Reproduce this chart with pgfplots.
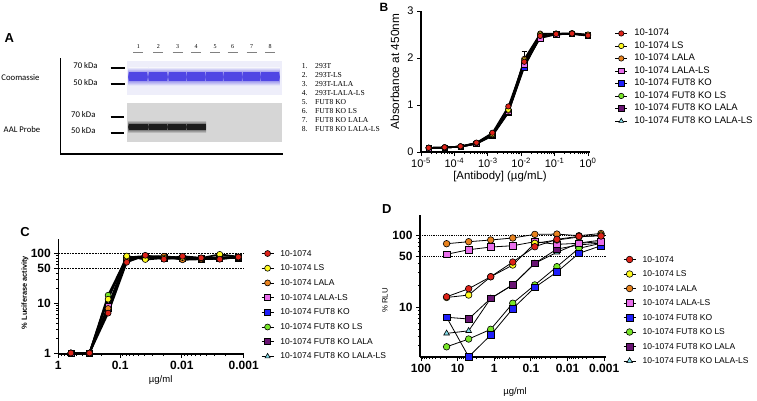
\documentclass[border=0pt]{standalone}
\usepackage{pgfplots}
\pgfplotsset{compat=1.18}
\usepackage{fontspec}
\setmainfont{Liberation Sans}
\newfontfamily\calfont{Carlito}
\newfontfamily\camfont{Liberation Serif}
\definecolor{cRed}{RGB}{222,35,25}
\definecolor{cYel}{RGB}{255,250,30}
\definecolor{cOra}{RGB}{232,130,30}
\definecolor{cMag}{RGB}{232,110,235}
\definecolor{cBlu}{RGB}{30,30,250}
\definecolor{cGre}{RGB}{120,230,40}
\definecolor{cPur}{RGB}{105,20,115}
\definecolor{cCya}{RGB}{130,220,232}
\definecolor{gelA}{RGB}{238,238,250}
\definecolor{bandA}{RGB}{80,70,228}
\definecolor{gelB}{RGB}{214,214,214}
\definecolor{bandB}{RGB}{28,28,28}
\pgfplotsset{
  gp/.style={scale only axis, clip=false,
    axis x line*=bottom, axis y line*=left,
    axis line style={-, line width=1.1pt},
    tick style={black, line width=0.9pt},
    tick align=outside, major tick length=4pt, minor tick length=2.2pt,
    /pgf/number format/assume math mode=true,
    legend cell align=left,
    legend image code/.code={\draw[##1, line width=0.8pt, mark repeat=2, mark phase=2] plot coordinates {(0pt,0pt) (6pt,0pt) (12pt,0pt)};},
  },
  pRed/.style={black, mark=*, mark options={solid, fill=cRed, draw=black, line width=0.6pt}},
  pYel/.style={black, mark=*, mark options={solid, fill=cYel, draw=black, line width=0.6pt}},
  pOra/.style={black, mark=*, mark options={solid, fill=cOra, draw=black, line width=0.6pt}},
  pMag/.style={black, mark=square*, mark options={solid, fill=cMag, draw=black, line width=0.6pt}},
  pBlu/.style={black, mark=square*, mark options={solid, fill=cBlu, draw=black, line width=0.6pt}},
  pGre/.style={black, mark=*, mark options={solid, fill=cGre, draw=black, line width=0.6pt}},
  pPur/.style={black, mark=square*, mark options={solid, fill=cPur, draw=black, line width=0.6pt}},
  pCya/.style={black, mark=triangle*, mark options={solid, fill=cCya, draw=black, line width=0.6pt}},
}
\begin{document}
\begin{tikzpicture}
\path[use as bounding box] (0,0) rectangle (757pt,400pt);

% ---------------- Panel A (gel) ----------------
\node[font=\fontsize{13}{13}\selectfont\bfseries] at (9.3pt,361.7pt) {A};
\foreach \x/\n in {138.3/1,158.3/2,177.7/3,196/4,215/5,232.7/6,251.7/7,270/8}{
  \node[font=\camfont\fontsize{6}{6}\selectfont] at (\x pt,353.3pt) {\n};
  \draw[gray, line width=0.4pt] (\x pt-5pt,348.3pt) -- (\x pt+5pt,348.3pt);
}
\fill[gelA] (127.3pt,305pt) rectangle (281.7pt,339pt);
\foreach \x in {138.3,158.3,177.7,196,215,232.7,251.7,270}{
  \shade[top color=gelA, bottom color=gelA, middle color=bandA] (\x pt-9.8pt,314.5pt) rectangle (\x pt+9.8pt,332.5pt);
  \fill[bandA] (\x pt-9pt,319pt) rectangle (\x pt+9pt,328pt);
}
\fill[gelB] (127.3pt,258.3pt) rectangle (281.7pt,296.7pt);
\foreach \x in {138.3,158.3,177.7,196}{
  \shade[top color=gelB, bottom color=gelB, middle color=bandB] (\x pt-10pt,267pt) rectangle (\x pt+10pt,280pt);
  \fill[bandB] (\x pt-9.5pt,270.5pt) rectangle (\x pt+9.5pt,276.5pt);
}
\draw[line width=1.7pt] (110.7pt,332.3pt) -- (125pt,332.3pt);
\draw[line width=1.7pt] (110.7pt,315.7pt) -- (125pt,315.7pt);
\draw[line width=1.7pt] (110.7pt,282.7pt) -- (124pt,282.7pt);
\draw[line width=1.7pt] (110.7pt,267.3pt) -- (124pt,267.3pt);
\begin{scope}[every node/.style={font=\calfont\fontsize{8.7}{9}\selectfont}]
\node at (85.5pt,334.7pt) {70 kDa};
\node at (85.5pt,317.3pt) {50 kDa};
\node at (83.3pt,285pt) {70 kDa};
\node at (83.3pt,269.3pt) {50 kDa};
\node at (20.5pt,322.7pt) {Coomassie};
\node at (22pt,270.7pt) {AAL Probe};
\end{scope}
\draw[line width=1.3pt] (60.3pt,341.7pt) -- (60.3pt,246pt) -- (282.7pt,246pt);
\foreach \i/\t in {1/293T,2/293T-LS,3/293T-LALA,4/293T-LALA-LS,5/FUT8 KO,6/FUT8 KO LS,7/FUT8 KO LALA,8/FUT8 KO LALA-LS}{
  \node[anchor=west, inner sep=0pt, font=\camfont\fontsize{7.6}{8}\selectfont] at (301.7pt,{(334-9*(\i-1))*1pt}) {\i.};
  \node[anchor=west, inner sep=0pt, font=\camfont\fontsize{7.6}{8}\selectfont] at (315pt,{(334-9*(\i-1))*1pt}) {\t};
}

% ---------------- Panel B ----------------
\node[font=\fontsize{12}{12}\selectfont\bfseries] at (384pt,393pt) {B};
\begin{axis}[gp, at={(421pt,248pt)}, anchor=south west, width=169pt, height=141pt,
  xmode=log, xmin=1e-5, xmax=1.148, ymin=0, ymax=3,
  xtick={1e-5,1e-4,1e-3,1e-2,1e-1,1},
  xticklabels={10\textsuperscript{-5},10\textsuperscript{-4},10\textsuperscript{-3},10\textsuperscript{-2},10\textsuperscript{-1},10\textsuperscript{0}},
  minor xtick={2e-5,3e-5,4e-5,5e-5,6e-5,7e-5,8e-5,9e-5,2e-4,3e-4,4e-4,5e-4,6e-4,7e-4,8e-4,9e-4,2e-3,3e-3,4e-3,5e-3,6e-3,7e-3,8e-3,9e-3,2e-2,3e-2,4e-2,5e-2,6e-2,7e-2,8e-2,9e-2,0.2,0.3,0.4,0.5,0.6,0.7,0.8,0.9},
  ytick={0,1,2,3},
  tick label style={font=\fontsize{11}{11}\selectfont},
  xticklabel style={yshift=1pt},
  every axis plot/.append style={line width=1.3pt, mark size=2.7pt},
  reverse legend,
  legend style={draw=none, fill=none, at={(1.146,0.874)}, anchor=north west, inner sep=0pt, row sep=3.5pt,
    font=\fontsize{9.5}{10}\selectfont, nodes={inner sep=0pt, inner xsep=6.6pt, text height=7pt, text depth=2pt}},
]
\addplot[pCya] coordinates {(1.694e-5,0.08) (5.08e-5,0.09) (1.524e-4,0.11) (4.572e-4,0.18) (1.372e-3,0.36) (4.115e-3,0.87) (1.235e-2,1.87) (3.704e-2,2.45) (0.1111,2.50) (0.3333,2.51) (1,2.48)};
\addlegendentry{10-1074 FUT8 KO LALA-LS}
\addplot[pPur] coordinates {(1.694e-5,0.08) (5.08e-5,0.09) (1.524e-4,0.11) (4.572e-4,0.17) (1.372e-3,0.34) (4.115e-3,0.83) (1.235e-2,1.83) (3.704e-2,2.44) (0.1111,2.50) (0.3333,2.51) (1,2.48)};
\addlegendentry{10-1074 FUT8 KO LALA}
\addplot[pGre] coordinates {(1.694e-5,0.09) (5.08e-5,0.10) (1.524e-4,0.12) (4.572e-4,0.19) (1.372e-3,0.38) (4.115e-3,0.92) (1.235e-2,1.88) (3.704e-2,2.46) (0.1111,2.50) (0.3333,2.52) (1,2.49)};
\addlegendentry{10-1074 FUT8 KO LS}
\addplot[pBlu] coordinates {(1.694e-5,0.08) (5.08e-5,0.09) (1.524e-4,0.11) (4.572e-4,0.18) (1.372e-3,0.35) (4.115e-3,0.84) (1.235e-2,1.80) (3.704e-2,2.45) (0.1111,2.51) (0.3333,2.51) (1,2.47)};
\addlegendentry{10-1074 FUT8 KO}
\addplot[pMag] coordinates {(1.694e-5,0.08) (5.08e-5,0.09) (1.524e-4,0.11) (4.572e-4,0.18) (1.372e-3,0.36) (4.115e-3,0.86) (1.235e-2,1.85) (3.704e-2,2.42) (0.1111,2.50) (0.3333,2.52) (1,2.48)};
\addlegendentry{10-1074 LALA-LS}
\addplot[forget plot, draw=none, mark=none, line width=0.8pt, error bars/.cd, y dir=plus, y explicit, error bar style={line width=0.8pt, black}] coordinates {(1.235e-2,1.98) +- (0,0.17)};
\addplot[pOra] coordinates {(1.694e-5,0.09) (5.08e-5,0.10) (1.524e-4,0.12) (4.572e-4,0.19) (1.372e-3,0.37) (4.115e-3,0.88) (1.235e-2,1.98) (3.704e-2,2.52) (0.1111,2.52) (0.3333,2.52) (1,2.49)};
\addlegendentry{10-1074 LALA}
\addplot[pYel] coordinates {(1.694e-5,0.09) (5.08e-5,0.10) (1.524e-4,0.12) (4.572e-4,0.19) (1.372e-3,0.38) (4.115e-3,0.90) (1.235e-2,1.95) (3.704e-2,2.50) (0.1111,2.52) (0.3333,2.53) (1,2.50)};
\addlegendentry{10-1074 LS}
\addplot[pRed] coordinates {(1.694e-5,0.09) (5.08e-5,0.10) (1.524e-4,0.12) (4.572e-4,0.20) (1.372e-3,0.41) (4.115e-3,0.97) (1.235e-2,1.92) (3.704e-2,2.47) (0.1111,2.51) (0.3333,2.52) (1,2.48)};
\addlegendentry{10-1074}
\end{axis}
\node[rotate=90, font=\fontsize{11.8}{12}\selectfont] at (395pt,328.3pt) {Absorbance at 450nm};
\node[font=\fontsize{11.4}{12}\selectfont] at (500pt,223.5pt) {[Antibody] (µg/mL)};

% ---------------- Panel C ----------------
\node[font=\fontsize{13}{13}\selectfont\bfseries] at (25pt,168.3pt) {C};
\begin{axis}[gp, at={(58.3pt,46pt)}, anchor=south west, width=185.4pt, height=114.7pt,
  xmode=log, ymode=log, x dir=reverse, xmin=0.001, xmax=1, ymin=0.955, ymax=190.5,
  xtick={0.001,0.01,0.1,1}, xticklabels={0.001,0.01,0.1,1},
  minor xtick={0.002,0.003,0.004,0.005,0.006,0.007,0.008,0.009,0.02,0.03,0.04,0.05,0.06,0.07,0.08,0.09,0.2,0.3,0.4,0.5,0.6,0.7,0.8,0.9},
  ytick={1,10,50,100}, yticklabels={1,10,50,100},
  minor ytick={2,3,4,5,6,7,8,9,20,30,40,60,70,80,90},
  tick label style={font=\fontsize{12}{12}\selectfont\bfseries},
  every axis plot/.append style={line width=1.8pt, mark size=3pt},
  reverse legend,
  legend style={draw=none, fill=none, at={(1.0933,0.917)}, anchor=north west, inner sep=0pt, row sep=5.7pt,
    font=\fontsize{8.5}{9}\selectfont, nodes={inner sep=0pt, inner xsep=6.3pt, text height=7pt, text depth=2pt}},
]
\addplot[forget plot, densely dotted, line width=0.6pt, mark=none] coordinates {(1,100) (0.001,100)};
\addplot[forget plot, densely dotted, line width=0.6pt, mark=none] coordinates {(1,50) (0.001,50)};
\addplot[pCya] coordinates {(0.001221,83) (0.002441,81) (0.004883,78) (0.009766,80) (0.01953,81) (0.03906,86) (0.07813,79) (0.1563,13) (0.3125,1) (0.625,1)};
\addlegendentry{10-1074 FUT8 KO LALA-LS}
\addplot[pPur] coordinates {(0.001221,81) (0.002441,80) (0.004883,76) (0.009766,78) (0.01953,79) (0.03906,85) (0.07813,74) (0.1563,8.2) (0.3125,1) (0.625,1)};
\addlegendentry{10-1074 FUT8 KO LALA}
\addplot[pGre] coordinates {(0.001221,84) (0.002441,83) (0.004883,79) (0.009766,82) (0.01953,86) (0.03906,88) (0.07813,82) (0.1563,14.4) (0.3125,1) (0.625,1)};
\addlegendentry{10-1074 FUT8 KO LS}
\addplot[pBlu] coordinates {(0.001221,80) (0.002441,82) (0.004883,77) (0.009766,79) (0.01953,80) (0.03906,83) (0.07813,76) (0.1563,8.0) (0.3125,1) (0.625,1)};
\addlegendentry{10-1074 FUT8 KO}
\addplot[pMag] coordinates {(0.001221,82) (0.002441,80) (0.004883,78) (0.009766,80) (0.01953,82) (0.03906,84) (0.07813,80) (0.1563,8.7) (0.3125,1) (0.625,1)};
\addlegendentry{10-1074 LALA-LS}
\addplot[pOra] coordinates {(0.001221,83) (0.002441,78) (0.004883,76) (0.009766,74) (0.01953,87) (0.03906,82) (0.07813,78) (0.1563,7.8) (0.3125,1) (0.625,1)};
\addlegendentry{10-1074 LALA}
\addplot[pYel] coordinates {(0.001221,85) (0.002441,95) (0.004883,80) (0.009766,82) (0.01953,80) (0.03906,75) (0.07813,88) (0.1563,12) (0.3125,1) (0.625,1)};
\addlegendentry{10-1074 LS}
\addplot[pRed] coordinates {(0.001221,84) (0.002441,76) (0.004883,81) (0.009766,87) (0.01953,76) (0.03906,91) (0.07813,66) (0.1563,6.3) (0.3125,1) (0.625,1)};
\addlegendentry{10-1074}
\end{axis}
\node[rotate=90, font=\fontsize{7.4}{8}\selectfont\bfseries] at (25pt,107.5pt) {\% Luciferase activity};
\node[font=\fontsize{9.5}{10}\selectfont] at (160.7pt,20pt) {µg/ml};

% ---------------- Panel D ----------------
\node[font=\fontsize{13}{13}\selectfont\bfseries] at (386.7pt,190.7pt) {D};
\begin{axis}[gp, at={(420pt,43pt)}, anchor=south west, width=186pt, height=142pt,
  xmode=log, ymode=log, x dir=reverse, xmin=0.000891, xmax=106.4, ymin=2.06, ymax=189,
  xtick={0.001,0.01,0.1,1,10,100}, xticklabels={0.001,0.01,0.1,1,10,100},
  minor xtick={0.002,0.003,0.004,0.005,0.006,0.007,0.008,0.009,0.02,0.03,0.04,0.05,0.06,0.07,0.08,0.09,0.2,0.3,0.4,0.5,0.6,0.7,0.8,0.9,2,3,4,5,6,7,8,9,20,30,40,50,60,70,80,90},
  ytick={10,50,100}, yticklabels={10,50,100},
  minor ytick={3,4,5,6,7,8,9,20,30,40,60,70,80,90},
  tick label style={font=\fontsize{12}{12}\selectfont\bfseries},
  every axis plot/.append style={line width=0.8pt, mark size=3.3pt},
  reverse legend,
  legend style={draw=none, fill=none, at={(1.0914,0.7197)}, anchor=north west, inner sep=0pt, row sep=5.5pt,
    font=\fontsize{8.5}{9}\selectfont, nodes={inner sep=0pt, inner xsep=6.7pt, text height=7pt, text depth=2pt}},
]
\addplot[forget plot, densely dotted, line width=0.6pt, mark=none] coordinates {(106.4,100) (0.000891,100)};
\addplot[forget plot, densely dotted, line width=0.6pt, mark=none] coordinates {(106.4,50) (0.000891,50)};
\addplot[pCya] coordinates {(0.00122,85) (0.00488,77.5) (0.0195,57.6) (0.0781,40.6) (0.3125,20.4) (1.25,13.3) (5,4.74) (20,4.37)};
\addlegendentry{10-1074 FUT8 KO LALA-LS}
\addplot[pPur] coordinates {(0.00122,77.5) (0.00488,72.8) (0.0195,64) (0.0781,40.6) (0.3125,20.6) (1.25,13.3) (5,6.9) (20,7.3)};
\addlegendentry{10-1074 FUT8 KO LALA}
\addplot[pGre] coordinates {(0.00122,76.8) (0.00488,65.5) (0.0195,36.5) (0.0781,20.4) (0.3125,11.4) (1.25,4.97) (5,3.65) (20,2.85)};
\addlegendentry{10-1074 FUT8 KO LS}
\addplot[pBlu] coordinates {(0.00122,71.1) (0.00488,55.8) (0.0195,30.8) (0.0781,18.9) (0.3125,9.6) (1.25,4.14) (5,2.08) (20,7.3)};
\addlegendentry{10-1074 FUT8 KO}
\addplot[pMag] coordinates {(0.00122,80.8) (0.00488,76.8) (0.0195,74.3) (0.0781,80.8) (0.3125,71.1) (1.25,68.2) (5,62.6) (20,54.1)};
\addlegendentry{10-1074 LALA-LS}
\addplot[pOra] coordinates {(0.00122,105) (0.00488,97.8) (0.0195,103) (0.0781,102) (0.3125,91) (1.25,85.3) (5,80.8) (20,75.8)};
\addlegendentry{10-1074 LALA}
\addplot[pYel] coordinates {(0.00122,100) (0.00488,93.8) (0.0195,85.3) (0.0781,76.8) (0.3125,38.5) (1.25,26.5) (5,14.8) (20,13.7)};
\addlegendentry{10-1074 LS}
\addplot[pRed] coordinates {(0.00122,96.9) (0.00488,95.9) (0.0195,87.2) (0.0781,68.9) (0.3125,42.3) (1.25,26.5) (5,18.1) (20,14.0)};
\addlegendentry{10-1074}
\end{axis}
\node[rotate=90, font=\fontsize{7.8}{8}\selectfont] at (385pt,99.5pt) {\% RLU};
\node[font=\fontsize{9.5}{10}\selectfont] at (515pt,8.3pt) {µg/ml};
\end{tikzpicture}
\end{document}
